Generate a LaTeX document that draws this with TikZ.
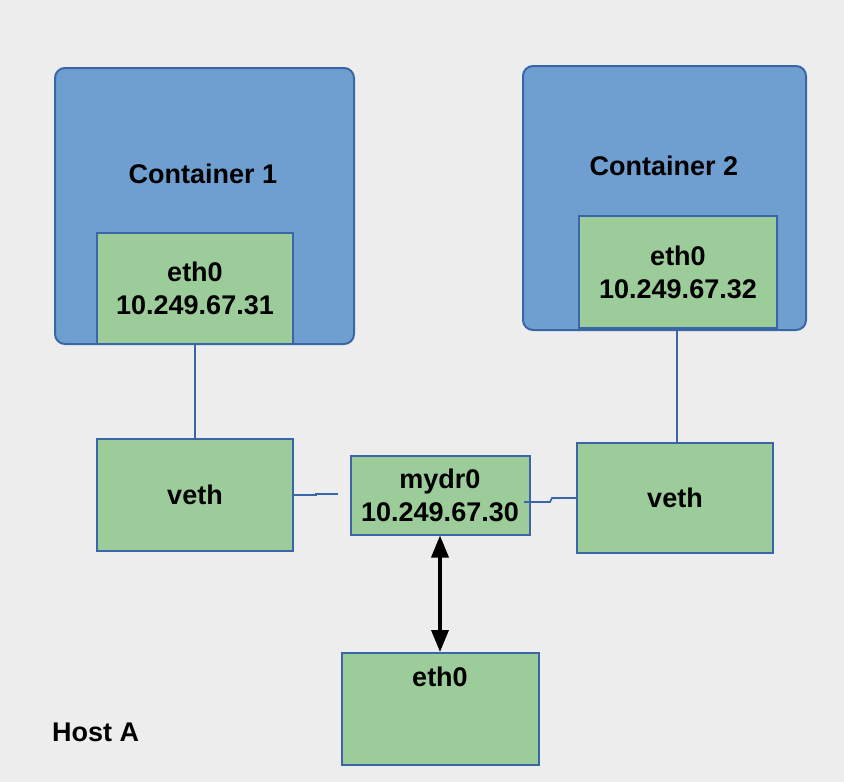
\documentclass[tikz,border=0pt]{standalone}
\usepackage{fontspec}
\setmainfont{Liberation Sans}
\usetikzlibrary{arrows.meta}
\definecolor{bgc}{RGB}{237,237,237}
\definecolor{contfill}{RGB}{111,159,208}
\definecolor{edge}{RGB}{58,102,168}
\definecolor{ifill}{RGB}{155,204,153}
\tikzset{
  cont/.style={draw=edge, fill=contfill, line width=2pt, rounded corners=10pt},
  iface/.style={draw=edge, fill=ifill, line width=2pt, align=center, inner sep=0pt,
    font=\fontsize{27}{33}\selectfont\bfseries},
  lbl/.style={font=\fontsize{27}{33}\selectfont\bfseries, inner sep=0pt},
  wire/.style={draw=edge, line width=1.6pt},
  dbl/.style={line width=3.5pt, {Triangle[length=22pt,width=17pt]}-{Triangle[length=22pt,width=17pt]}}
}
\begin{document}
\begin{tikzpicture}[x=1pt,y=-1pt]
\fill[bgc] (0,0) rectangle (844,782);
\useasboundingbox (0,0) rectangle (844,782);
% containers
\draw[cont] (55,68) rectangle (354,344);
\draw[cont] (523,66) rectangle (806,330);
\node[lbl] (c1) at (203,174) {Container 1};
\node[lbl] (c2) at (664,166) {Container 2};
% interfaces
\node[iface, minimum width=196pt, minimum height=111pt] (e1) at (195,288) {eth0\\10.249.67.31};
\node[iface, minimum width=198pt, minimum height=112pt] (e2) at (678,272) {eth0\\10.249.67.32};
\node[iface, minimum width=196pt, minimum height=112pt] (v1) at (195,495) {veth};
\node[iface, minimum width=196pt, minimum height=110pt] (v2) at (675,498) {veth};
\node[iface, minimum width=179pt, minimum height=79pt] (br) at (440,495) {mydr0\\10.249.67.30};
\node[iface, minimum width=197pt, minimum height=112pt] (e3) at (440,709) {};
\node[lbl, anchor=north] (e3t) at ([yshift=-15pt]e3.north) {eth0};
\node[lbl, anchor=west] (host) at (52,732) {Host A};
% wires
\draw[wire] (e1.south) -- (v1.north);
\draw[wire] (e2.south -| 677,0) -- (v2.north -| 677,0);
\coordinate (lend) at (338,494);
\draw[wire] (v1.east |- 0,495) -- (316,495) -- (316,494) -- (lend);
\coordinate (rstart) at (524,502);
\draw[wire] (rstart) -- (550,502) -- (552,498) -- (v2.west |- 0,498);
% arrow
\draw[dbl] (br.south) -- (e3.north);
\end{tikzpicture}
\end{document}
